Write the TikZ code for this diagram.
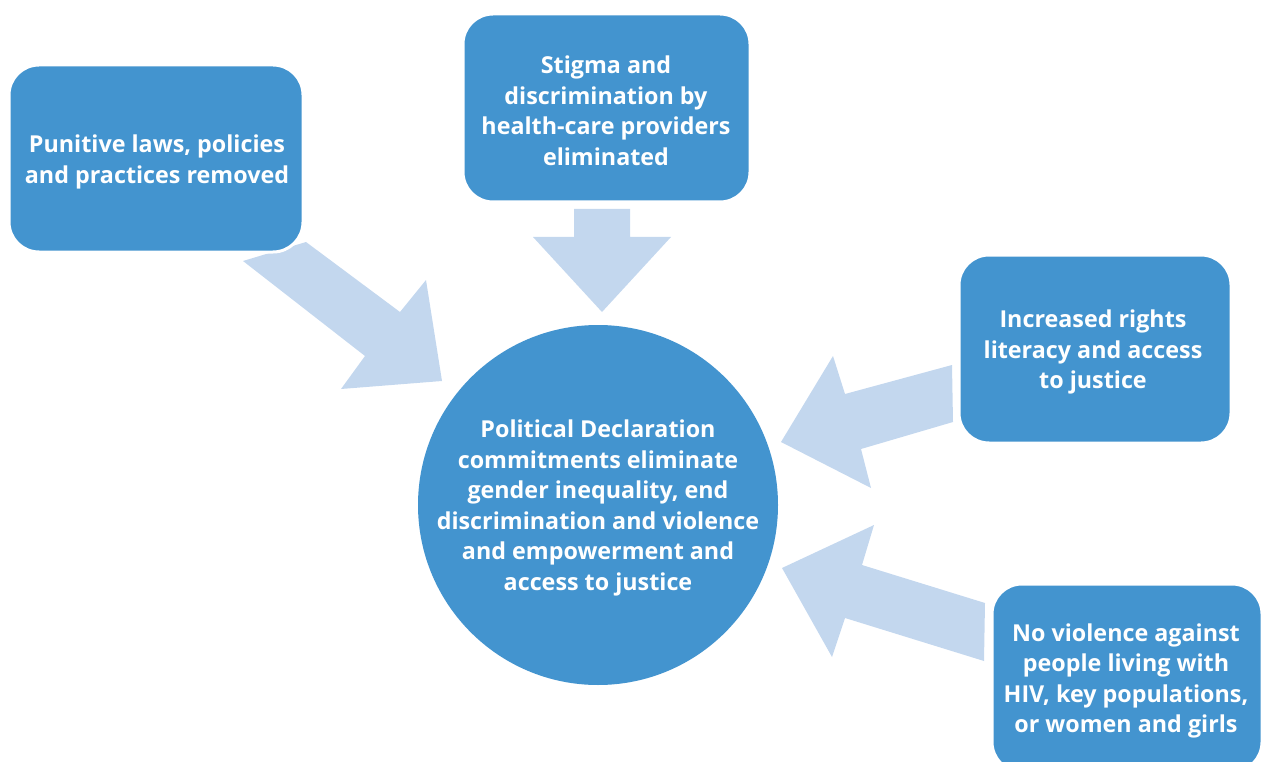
\documentclass[tikz,border=0pt]{standalone}
\usepackage{fontspec}
\setmainfont{Open Sans}
\definecolor{boxblue}{RGB}{67,148,207}
\definecolor{arrowblue}{RGB}{195,215,238}
\begin{document}
\begin{tikzpicture}[x=1pt,y=-1pt,
  box/.style={fill=boxblue, draw=white, line width=3pt, rounded corners=30pt, inner sep=0pt},
  label/.style={text=white, align=center, font=\bfseries\fontsize{23.3}{30.5}\selectfont, inner sep=0pt},
  blockarrow/.style={fill=arrowblue, draw=none}]
\useasboundingbox (0,0) rectangle (1261,762);
\clip (0,0) rectangle (1261,762);
% arrows (drawn first, under the boxes)
\fill[blockarrow] (306,242) -- (400,312) -- (426,280) -- (442,381) -- (341,389) -- (365,356) -- (243,261) -- cycle;
\fill[blockarrow] (574,209) -- (630,209) -- (630,237) -- (671,237) -- (602,312) -- (533,237) -- (574,237) -- cycle;
\fill[blockarrow] (952,365) -- (845,394) -- (833,356) -- (781,442) -- (871,488) -- (861,449) -- (953,422) -- cycle;
\fill[blockarrow] (985,603) -- (862,565) -- (874,525) -- (782,568) -- (832,657) -- (845,618) -- (984,661) -- cycle;
% boxes
\draw[box] (9,65) rectangle (303,252);
\draw[box] (463,14) rectangle (750,202);
\draw[box] (959,255) rectangle (1231,443);
\draw[box] (992,584) rectangle (1262,772);
\node[circle, fill=boxblue, minimum size=360pt, inner sep=0pt] (c) at (598,505) {};
% texts
\node[label] (t1) at (157,162) {Punitive laws, policies\\and practices removed};
\node[label] (t2) at (606,111) {Stigma and\\discrimination by\\health-care providers\\eliminated};
\node[label] (t3) at (1093,352) {Increased rights\\literacy and access\\to justice};
\node[label] (t4) at (1126,681) {No violence against\\people living with\\HIV, key populations,\\or women and girls};
\node[label] (tc) at (598,508) {Political Declaration\\commitments eliminate\\gender inequality, end\\discrimination and violence\\and empowerment and\\access to justice};
\end{tikzpicture}
\end{document}
